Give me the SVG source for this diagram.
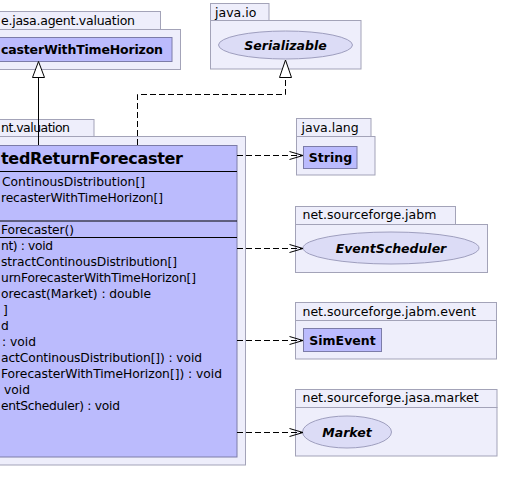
<svg xmlns="http://www.w3.org/2000/svg" width="505" height="502" viewBox="0 0 505 502">
<style>
.pkg{fill:#eeeefb;stroke:#a3a3b8;stroke-width:1}
.cls{fill:#bbbbfd;stroke:#7c7ca8;stroke-width:1}
.ell{fill:#dcdcf6;stroke:#9e9ebe;stroke-width:1}
.sep{stroke:#000;stroke-width:1}
text{font-family:"DejaVu Sans","Noto Sans",sans-serif;fill:#000}
.lbl{font-size:12.5px}
.mem{font-size:12.3px}
.b{font-size:12.5px;font-weight:bold}
.bi{font-size:12.5px;font-weight:bold;font-style:italic}
.title{font-size:16px;font-weight:bold}
.dash{fill:none;stroke:#000;stroke-width:1;stroke-dasharray:6,3}
.solid{fill:none;stroke:#000;stroke-width:1}
.head{fill:none;stroke:#000;stroke-width:1}
.tri{fill:#fff;stroke:#000;stroke-width:1}
</style>
<rect width="505" height="502" fill="#fff"/>

<g id="pkg-agent-valuation-top">
<rect class="pkg" x="-20" y="11.5" width="180.5" height="18"/>
<rect class="pkg" x="-20" y="29.5" width="200.5" height="40"/>
<text class="lbl" x="1" y="25" textLength="134">e.jasa.agent.valuation</text>
</g>
<g id="ReturnForecasterWithTimeHorizon">
<rect class="cls" x="-10" y="37.5" width="182" height="24"/>
<text class="b" x="1" y="54" textLength="162">casterWithTimeHorizon</text>
</g>

<g id="pkg-java-io">
<rect class="pkg" x="210.5" y="3.5" width="58.5" height="17"/>
<rect class="pkg" x="210.5" y="20.5" width="150.5" height="48.5"/>
<text class="lbl" x="215" y="17">java.io</text>
</g>
<g id="Serializable">
<ellipse class="ell" cx="285.5" cy="45" rx="67" ry="14"/>
<text class="bi" x="285.5" y="49.5" text-anchor="middle">Serializable</text>
</g>

<g id="pkg-agent-valuation">
<rect class="pkg" x="-20" y="119.5" width="114" height="17"/>
<rect class="pkg" x="-20" y="136.5" width="265.5" height="328.5"/>
<text class="lbl" x="1" y="132" textLength="69">nt.valuation</text>
</g>
<g id="WeightedReturnForecaster">
<rect class="cls" x="-10" y="145.5" width="247" height="311.5"/>
<line class="sep" x1="-10" y1="171.5" x2="237" y2="171.5"/>
<line class="sep" x1="-10" y1="221" x2="237" y2="221"/>
<line class="sep" x1="-10" y1="237.5" x2="237" y2="237.5"/>
<text class="title" x="1" y="164" textLength="182">tedReturnForecaster</text>
<text class="mem" x="145" y="186" text-anchor="end">ContinousDistribution[]</text>
<text class="mem" x="1" y="202" textLength="162">recasterWithTimeHorizon[]</text>
<text class="mem" x="1" y="234" textLength="73">Forecaster()</text>
<text class="mem" x="1" y="250" textLength="52">nt) : void</text>
<text class="mem" x="1" y="266" textLength="176">stractContinousDistribution[]</text>
<text class="mem" x="1" y="282" textLength="195">urnForecasterWithTimeHorizon[]</text>
<text class="mem" x="1" y="298" textLength="150">orecast(Market) : double</text>
<text class="mem" x="3" y="314">]</text>
<text class="mem" x="1" y="330">d</text>
<text class="mem" x="2" y="346">: void</text>
<text class="mem" x="1" y="362" textLength="201">actContinousDistribution[]) : void</text>
<text class="mem" x="1" y="378" textLength="221">ForecasterWithTimeHorizon[]) : void</text>
<text class="mem" x="4" y="394">void</text>
<text class="mem" x="1" y="410" textLength="119">entScheduler) : void</text>
</g>

<g id="pkg-java-lang">
<rect class="pkg" x="296.5" y="118.5" width="74.5" height="18"/>
<rect class="pkg" x="296.5" y="136.5" width="78.5" height="38.5"/>
<text class="lbl" x="301.5" y="132">java.lang</text>
</g>
<g id="String">
<rect class="cls" x="303.5" y="146.5" width="53.5" height="22"/>
<text class="b" x="330.5" y="162" text-anchor="middle">String</text>
</g>

<g id="pkg-jabm">
<rect class="pkg" x="295.5" y="206.5" width="160" height="18"/>
<rect class="pkg" x="295.5" y="224.5" width="192" height="48"/>
<text class="lbl" x="302.5" y="219">net.sourceforge.jabm</text>
</g>
<g id="EventScheduler">
<ellipse class="ell" cx="391" cy="248" rx="88" ry="16"/>
<text class="bi" x="391" y="252.5" text-anchor="middle">EventScheduler</text>
</g>

<g id="pkg-jabm-event">
<rect class="pkg" x="295.5" y="302.5" width="201" height="18"/>
<rect class="pkg" x="295.5" y="320.5" width="201" height="38.5"/>
<text class="lbl" x="302.5" y="315.5">net.sourceforge.jabm.event</text>
</g>
<g id="SimEvent">
<rect class="cls" x="303.5" y="328.5" width="78" height="23"/>
<text class="b" x="342.5" y="345" text-anchor="middle">SimEvent</text>
</g>

<g id="pkg-jasa-market">
<rect class="pkg" x="295.5" y="389.5" width="201.5" height="18"/>
<rect class="pkg" x="295.5" y="407.5" width="201.5" height="48.5"/>
<text class="lbl" x="302.5" y="402">net.sourceforge.jasa.market</text>
</g>
<g id="Market">
<ellipse class="ell" cx="347" cy="432" rx="44.5" ry="16"/>
<text class="bi" x="347" y="437" text-anchor="middle">Market</text>
</g>

<g id="connectors">
<line class="solid" x1="38.5" y1="77.5" x2="38.5" y2="145"/>
<polygon class="tri" points="38.5,61.5 32.5,77.5 44.5,77.5"/>
<polyline class="dash" points="137.5,145 137.5,94.5 285.5,94.5 285.5,77.5"/>
<polygon class="tri" points="285.5,60 279.5,77.5 291.5,77.5"/>
<line class="dash" x1="237" y1="155.5" x2="302" y2="155.5"/>
<polyline class="head" points="289.5,151.5 303,155.5 289.5,159.5"/>
<line class="dash" x1="237" y1="248.5" x2="302" y2="248.5"/>
<polyline class="head" points="289.5,244.5 303,248.5 289.5,252.5"/>
<line class="dash" x1="237" y1="340.5" x2="302" y2="340.5"/>
<polyline class="head" points="289.5,336.5 303,340.5 289.5,344.5"/>
<line class="dash" x1="237" y1="432.5" x2="302" y2="432.5"/>
<polyline class="head" points="289.5,428.5 303,432.5 289.5,436.5"/>
</g>
</svg>
